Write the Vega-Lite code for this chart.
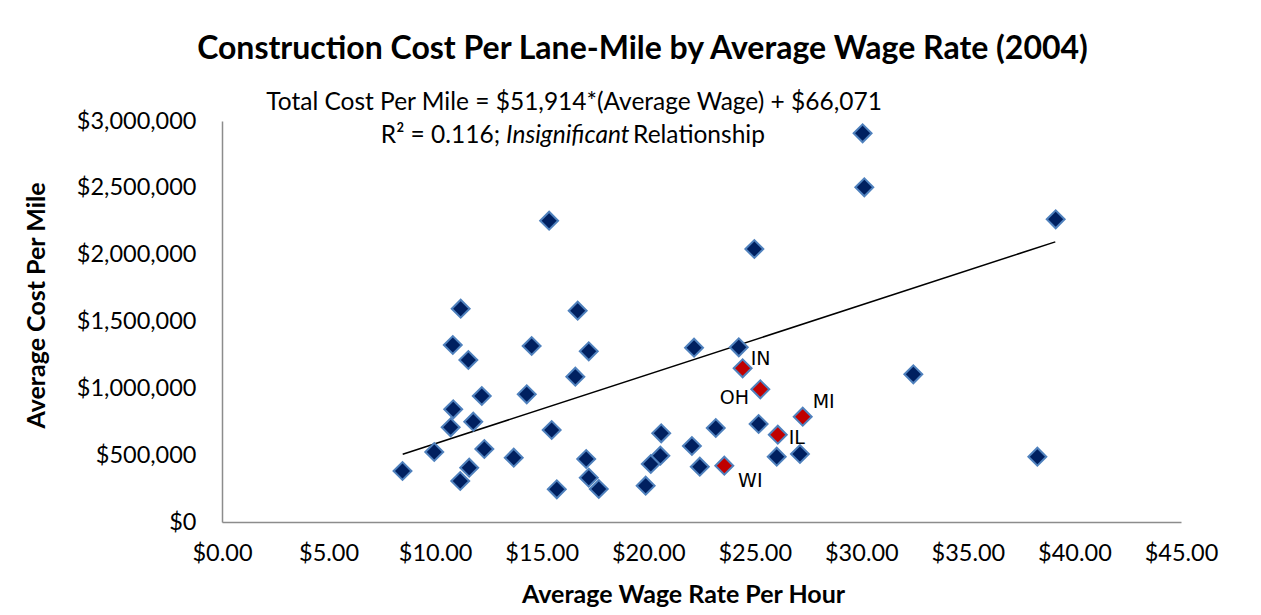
{
  "$schema": "https://vega.github.io/schema/vega-lite/v6.json",
  "autosize": {"type": "none"},
  "width": 959,
  "height": 401,
  "padding": {"left": 222, "top": 121, "right": 80, "bottom": 93},
  "background": "white",
  "title": {
    "text": "Construction Cost Per Lane-Mile by Average Wage Rate (2004)",
    "font": "Lato",
    "fontSize": 32,
    "fontWeight": "bold",
    "color": "#000000",
    "anchor": "middle",
    "dx": -59,
    "dy": 21,
    "baseline": "alphabetic",
    "offset": 20
  },
  "config": {
    "view": {"stroke": null},
    "axis": {
      "grid": false,
      "ticks": false,
      "domainColor": "#8c8c8c",
      "domainWidth": 1.5,
      "labelFont": "Lato",
      "labelFontSize": 23.5,
      "labelColor": "#000000",
      "titleFont": "Lato",
      "titleFontSize": 25,
      "titleFontWeight": "bold",
      "titleColor": "#000000"
    }
  },
  "datasets": {
    "pts": [
      {"wage": 8.47, "cost": 381500, "state": "", "group": "other"},
      {"wage": 9.96, "cost": 523700, "state": "", "group": "other"},
      {"wage": 10.73, "cost": 708500, "state": "", "group": "other"},
      {"wage": 10.83, "cost": 1324200, "state": "", "group": "other"},
      {"wage": 10.85, "cost": 843100, "state": "", "group": "other"},
      {"wage": 11.20, "cost": 1595700, "state": "", "group": "other"},
      {"wage": 11.18, "cost": 306700, "state": "", "group": "other"},
      {"wage": 11.56, "cost": 1212000, "state": "", "group": "other"},
      {"wage": 11.60, "cost": 406200, "state": "", "group": "other"},
      {"wage": 11.79, "cost": 750400, "state": "", "group": "other"},
      {"wage": 12.19, "cost": 942600, "state": "", "group": "other"},
      {"wage": 12.31, "cost": 546100, "state": "", "group": "other"},
      {"wage": 13.69, "cost": 481000, "state": "", "group": "other"},
      {"wage": 14.30, "cost": 955300, "state": "", "group": "other"},
      {"wage": 14.53, "cost": 1316700, "state": "", "group": "other"},
      {"wage": 15.35, "cost": 2254000, "state": "", "group": "other"},
      {"wage": 15.47, "cost": 688300, "state": "", "group": "other"},
      {"wage": 15.71, "cost": 244600, "state": "", "group": "other"},
      {"wage": 16.58, "cost": 1087000, "state": "", "group": "other"},
      {"wage": 16.69, "cost": 1580800, "state": "", "group": "other"},
      {"wage": 17.09, "cost": 471300, "state": "", "group": "other"},
      {"wage": 17.21, "cost": 1277000, "state": "", "group": "other"},
      {"wage": 17.21, "cost": 331400, "state": "", "group": "other"},
      {"wage": 17.68, "cost": 246900, "state": "", "group": "other"},
      {"wage": 19.88, "cost": 271600, "state": "", "group": "other"},
      {"wage": 20.12, "cost": 433900, "state": "", "group": "other"},
      {"wage": 20.57, "cost": 496000, "state": "", "group": "other"},
      {"wage": 20.61, "cost": 663600, "state": "", "group": "other"},
      {"wage": 22.05, "cost": 568600, "state": "", "group": "other"},
      {"wage": 22.15, "cost": 1304000, "state": "", "group": "other"},
      {"wage": 22.42, "cost": 413700, "state": "", "group": "other"},
      {"wage": 23.17, "cost": 703200, "state": "", "group": "other"},
      {"wage": 23.57, "cost": 421200, "state": "WI", "group": "midwest"},
      {"wage": 24.25, "cost": 1307000, "state": "", "group": "other"},
      {"wage": 24.43, "cost": 1149900, "state": "IN", "group": "midwest"},
      {"wage": 24.98, "cost": 2042400, "state": "", "group": "other"},
      {"wage": 25.26, "cost": 992700, "state": "OH", "group": "midwest"},
      {"wage": 25.18, "cost": 733100, "state": "", "group": "other"},
      {"wage": 26.03, "cost": 488500, "state": "", "group": "other"},
      {"wage": 26.08, "cost": 653100, "state": "IL", "group": "midwest"},
      {"wage": 27.12, "cost": 508700, "state": "", "group": "other"},
      {"wage": 27.25, "cost": 787800, "state": "MI", "group": "midwest"},
      {"wage": 30.06, "cost": 2907900, "state": "", "group": "other"},
      {"wage": 30.14, "cost": 2503900, "state": "", "group": "other"},
      {"wage": 32.44, "cost": 1105000, "state": "", "group": "other"},
      {"wage": 38.26, "cost": 488500, "state": "", "group": "other"},
      {"wage": 39.12, "cost": 2264500, "state": "", "group": "other"}
    ],
    "trend": [
      {"wage": 8.48, "cost": 506300},
      {"wage": 39.1, "cost": 2095900}
    ]
  },
  "layer": [
    {
      "data": {"name": "trend"},
      "mark": {"type": "line", "color": "#000000", "strokeWidth": 1.5},
      "encoding": {
        "x": {
          "field": "wage",
          "type": "quantitative",
          "scale": {"domain": [0, 45], "nice": false, "zero": true},
          "axis": {
            "title": "Average Wage Rate Per Hour",
            "values": [0, 5, 10, 15, 20, 25, 30, 35, 40, 45],
            "format": "$,.2f",
            "labelPadding": 19,
            "labelFlush": false,
            "titleX": 461,
            "titleY": 80,
            "titleBaseline": "alphabetic",
            "titleAnchor": null
          }
        },
        "y": {
          "field": "cost",
          "type": "quantitative",
          "scale": {"domain": [0, 3000000], "nice": false},
          "axis": {
            "title": "Average Cost Per Mile",
            "values": [0, 500000, 1000000, 1500000, 2000000, 2500000, 3000000],
            "format": "$,.0f",
            "labelPadding": 26,
            "labelFlush": false,
            "titleX": -186,
            "titleY": 184,
            "titleBaseline": "middle",
            "titleAnchor": null
          }
        }
      }
    },
    {
      "data": {"name": "pts"},
      "mark": {"type": "point", "shape": "diamond", "filled": true, "size": 320, "strokeWidth": 2, "stroke": "#4f81bd", "opacity": 1},
      "encoding": {
        "x": {"field": "wage", "type": "quantitative"},
        "y": {"field": "cost", "type": "quantitative"},
        "fill": {
          "field": "group",
          "type": "nominal",
          "scale": {"domain": ["other", "midwest"], "range": ["#002060", "#c00000"]},
          "legend": null
        }
      }
    },
    {
      "data": {"name": "pts"},
      "transform": [{"filter": "datum.state === 'IN'"}],
      "mark": {"type": "text", "font": "DejaVu Sans", "fontSize": 19, "color": "#000000", "align": "center", "baseline": "middle", "dx": 18, "dy": -9},
      "encoding": {"x": {"field": "wage", "type": "quantitative"}, "y": {"field": "cost", "type": "quantitative"}, "text": {"field": "state"}}
    },
    {
      "data": {"name": "pts"},
      "transform": [{"filter": "datum.state === 'OH'"}],
      "mark": {"type": "text", "font": "DejaVu Sans", "fontSize": 19, "color": "#000000", "align": "center", "baseline": "middle", "dx": -26, "dy": 9},
      "encoding": {"x": {"field": "wage", "type": "quantitative"}, "y": {"field": "cost", "type": "quantitative"}, "text": {"field": "state"}}
    },
    {
      "data": {"name": "pts"},
      "transform": [{"filter": "datum.state === 'MI'"}],
      "mark": {"type": "text", "font": "DejaVu Sans", "fontSize": 19, "color": "#000000", "align": "center", "baseline": "middle", "dx": 21, "dy": -15},
      "encoding": {"x": {"field": "wage", "type": "quantitative"}, "y": {"field": "cost", "type": "quantitative"}, "text": {"field": "state"}}
    },
    {
      "data": {"name": "pts"},
      "transform": [{"filter": "datum.state === 'IL'"}],
      "mark": {"type": "text", "font": "DejaVu Sans", "fontSize": 19, "color": "#000000", "align": "center", "baseline": "middle", "dx": 19, "dy": 3},
      "encoding": {"x": {"field": "wage", "type": "quantitative"}, "y": {"field": "cost", "type": "quantitative"}, "text": {"field": "state"}}
    },
    {
      "data": {"name": "pts"},
      "transform": [{"filter": "datum.state === 'WI'"}],
      "mark": {"type": "text", "font": "DejaVu Sans", "fontSize": 19, "color": "#000000", "align": "center", "baseline": "middle", "dx": 26, "dy": 15},
      "encoding": {"x": {"field": "wage", "type": "quantitative"}, "y": {"field": "cost", "type": "quantitative"}, "text": {"field": "state"}}
    },
    {
      "data": {"values": [{"t": "Total Cost Per Mile = $51,914*(Average Wage) + $66,071"}]},
      "mark": {"type": "text", "font": "Lato", "fontSize": 24.5, "color": "#000000", "align": "center", "baseline": "alphabetic"},
      "encoding": {
        "x": {"datum": 16.52, "type": "quantitative"},
        "y": {"datum": 3082000, "type": "quantitative"},
        "text": {"field": "t"}
      }
    },
    {
      "data": {"values": [{"t": "R² = 0.116;"}]},
      "mark": {"type": "text", "font": "Lato", "fontSize": 24.5, "color": "#000000", "align": "right", "baseline": "alphabetic"},
      "encoding": {
        "x": {"datum": 13.05, "type": "quantitative"},
        "y": {"datum": 2835000, "type": "quantitative"},
        "text": {"field": "t"}
      }
    },
    {
      "data": {"values": [{"t": "Insignificant"}]},
      "mark": {"type": "text", "font": "Lato", "fontSize": 24.5, "fontStyle": "italic", "color": "#000000", "align": "left", "baseline": "alphabetic"},
      "encoding": {
        "x": {"datum": 13.33, "type": "quantitative"},
        "y": {"datum": 2835000, "type": "quantitative"},
        "text": {"field": "t"}
      }
    },
    {
      "data": {"values": [{"t": "Relationship"}]},
      "mark": {"type": "text", "font": "Lato", "fontSize": 24.5, "color": "#000000", "align": "left", "baseline": "alphabetic"},
      "encoding": {
        "x": {"datum": 19.29, "type": "quantitative"},
        "y": {"datum": 2835000, "type": "quantitative"},
        "text": {"field": "t"}
      }
    }
  ]
}
